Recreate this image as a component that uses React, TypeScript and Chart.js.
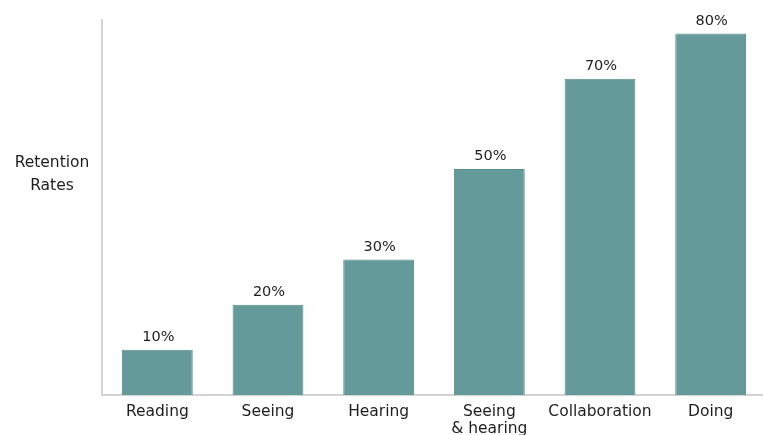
import React, { useEffect, useRef } from "react";
import { Chart, registerables } from "chart.js";

Chart.register(...registerables);

const categories: (string | string[])[] = [
  "Reading",
  "Seeing",
  "Hearing",
  ["Seeing", "& hearing"],
  "Collaboration",
  "Doing",
];
const retention: number[] = [10, 20, 30, 50, 70, 80];
const valueLabels: string[] = ["10%", "20%", "30%", "50%", "70%", "80%"];
const yTitle: string[] = ["Retention", "Rates"];

const FONT = "'DejaVu Sans', sans-serif";

export default function App() {
  const ref = useRef<HTMLCanvasElement | null>(null);

  useEffect(() => {
    if (!ref.current) return;
    const labelPlugin = {
      id: "valueLabels",
      afterDatasetsDraw(chart: any) {
        const ctx = chart.ctx;
        const meta = chart.getDatasetMeta(0);
        ctx.save();
        ctx.font = `14.5px ${FONT}`;
        ctx.fillStyle = "#1e1e1e";
        ctx.textAlign = "center";
        ctx.textBaseline = "middle";
        meta.data.forEach((bar: any, i: number) => {
          ctx.fillText(valueLabels[i], bar.x + 1, bar.y - 12.5);
        });
        const ca = chart.chartArea;
        ctx.font = `15.5px ${FONT}`;
        yTitle.forEach((t, i) => {
          ctx.fillText(t, ca.left - 50, ca.top + 143 + i * 23);
        });
        ctx.restore();
      },
    };
    const chart = new Chart(ref.current, {
      type: "bar",
      data: {
        labels: categories,
        datasets: [
          {
            data: retention,
            backgroundColor: "#649a9a",
            borderColor: "#5a8e8e",
            borderWidth: 1,
            barPercentage: 0.64,
            categoryPercentage: 1,
          },
        ],
      },
      options: {
        animation: false,
        responsive: false,
        devicePixelRatio: 1,
        layout: { padding: { left: 101, top: 20, right: 0, bottom: 0 } },
        plugins: {
          legend: { display: false },
          tooltip: { enabled: false },
        },
        scales: {
          x: {
            grid: { display: false },
            border: { display: true, color: "#d3d3d3", width: 2 },
            ticks: {
              color: "#1e1e1e",
              font: { family: FONT, size: 15.5, lineHeight: 1.1 },
              padding: 0,
              maxRotation: 0,
              autoSkip: false,
            },
            afterFit: (s: any) => {
              s.height = 40;
            },
          },
          y: {
            min: 0,
            max: 83,
            grid: { display: false },
            border: { display: true, color: "#d3d3d3", width: 2 },
            ticks: { display: false },
            afterFit: (s: any) => {
              s.width = 1;
            },
          },
        },
      },
      plugins: [labelPlugin],
    });
    return () => chart.destroy();
  }, []);

  return (
    <div
      style={{
        position: "fixed",
        left: 0,
        top: 0,
        width: 763,
        height: 435,
        overflow: "hidden",
        background: "#fff",
      }}
    >
      <canvas ref={ref} width={766} height={435} style={{ display: "block" }} />
    </div>
  );
}
